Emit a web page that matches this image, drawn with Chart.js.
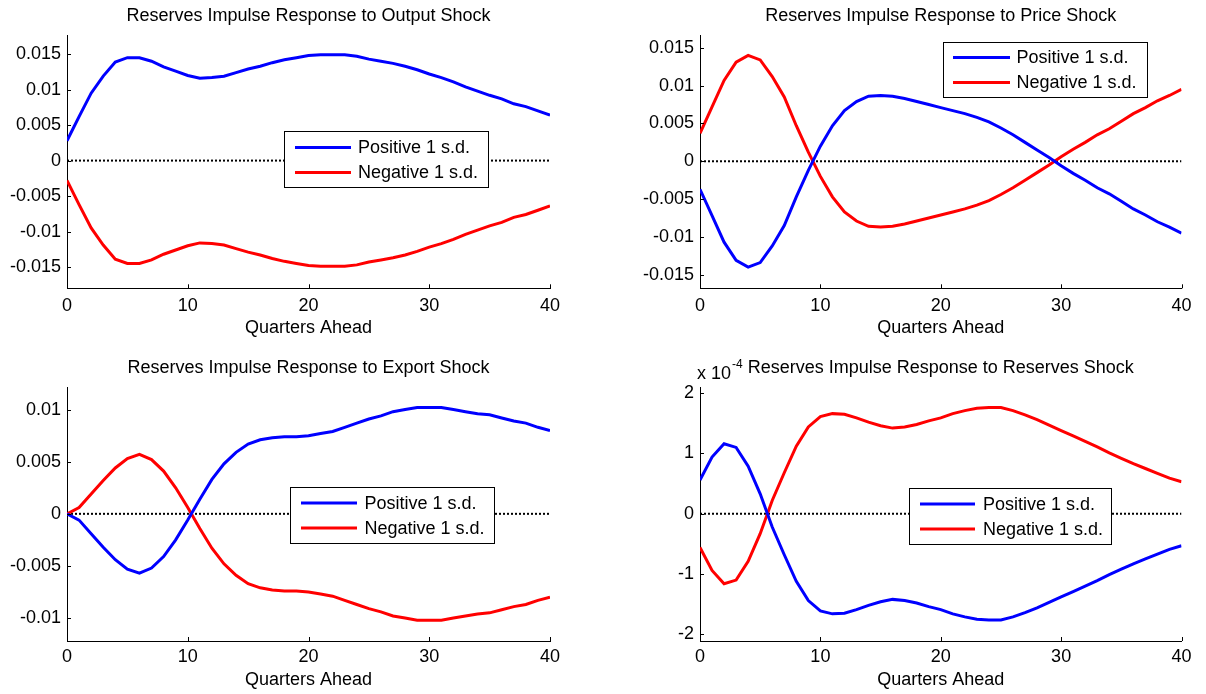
<!DOCTYPE html>
<html>
<head>
<meta charset="utf-8">
<script src="https://cdn.jsdelivr.net/npm/chart.js@4.4.1/dist/chart.umd.min.js"></script>
<style>
  body { margin: 0; background: #fff; }
  #wrap { position: relative; width: 1206px; height: 694px; }
  canvas { position: absolute; }
</style>
</head>
<body>
<div id="wrap">
  <canvas id="c1" width="603" height="347" style="left:0;top:0"></canvas>
  <canvas id="c2" width="603" height="347" style="left:603px;top:0"></canvas>
  <canvas id="c3" width="603" height="347" style="left:0;top:347px"></canvas>
  <canvas id="c4" width="603" height="347" style="left:603px;top:347px"></canvas>
</div>
<script>
// quarters ahead
const quarters = [0,1,2,3,4,5,6,7,8,9,10,11,12,13,14,15,16,17,18,19,20,21,22,23,24,25,26,27,28,29,30,31,32,33,34,35,36,37,38,39,40];
const xTicks = [0, 10, 20, 30, 40];
const zeroLine = [0, 0];
const zeroX = [0, 40];

// output shock
const outputPos = [0.0028,0.0062,0.0095,0.0119,0.0139,0.0145,0.0145,0.0140,0.0132,0.0126,0.0120,0.0116,0.0117,0.0119,0.0124,0.0129,0.0133,0.0138,0.0142,0.0145,0.0148,0.0149,0.0149,0.0149,0.0147,0.0143,0.0140,0.0137,0.0133,0.0128,0.0122,0.0117,0.0111,0.0104,0.0098,0.0092,0.0087,0.0080,0.0076,0.0070,0.0064];
const outputNeg = [-0.0028,-0.0062,-0.0095,-0.0119,-0.0139,-0.0145,-0.0145,-0.0140,-0.0132,-0.0126,-0.0120,-0.0116,-0.0117,-0.0119,-0.0124,-0.0129,-0.0133,-0.0138,-0.0142,-0.0145,-0.0148,-0.0149,-0.0149,-0.0149,-0.0147,-0.0143,-0.0140,-0.0137,-0.0133,-0.0128,-0.0122,-0.0117,-0.0111,-0.0104,-0.0098,-0.0092,-0.0087,-0.0080,-0.0076,-0.0070,-0.0064];
const outputTicks = [-0.015, -0.01, -0.005, 0, 0.005, 0.01, 0.015];

// price shock
const pricePos = [-0.0037,-0.0072,-0.0107,-0.0131,-0.0140,-0.0134,-0.0112,-0.0085,-0.0047,-0.0012,0.0020,0.0047,0.0067,0.0079,0.0086,0.0087,0.0086,0.0083,0.0079,0.0075,0.0071,0.0067,0.0063,0.0058,0.0052,0.0044,0.0035,0.0025,0.0015,0.0005,-0.0006,-0.0016,-0.0025,-0.0035,-0.0043,-0.0053,-0.0063,-0.0071,-0.0080,-0.0087,-0.0095];
const priceNeg = [0.0037,0.0072,0.0107,0.0131,0.0140,0.0134,0.0112,0.0085,0.0047,0.0012,-0.0020,-0.0047,-0.0067,-0.0079,-0.0086,-0.0087,-0.0086,-0.0083,-0.0079,-0.0075,-0.0071,-0.0067,-0.0063,-0.0058,-0.0052,-0.0044,-0.0035,-0.0025,-0.0015,-0.0005,0.0006,0.0016,0.0025,0.0035,0.0043,0.0053,0.0063,0.0071,0.0080,0.0087,0.0095];
const priceTicks = [-0.015, -0.01, -0.005, 0, 0.005, 0.01, 0.015];

// export shock
const exportPos = [0,-0.0006,-0.0019,-0.0032,-0.0044,-0.0053,-0.0057,-0.0052,-0.0041,-0.0025,-0.0006,0.0014,0.0033,0.0048,0.0059,0.0067,0.0071,0.0073,0.0074,0.0074,0.0075,0.0077,0.0079,0.0083,0.0087,0.0091,0.0094,0.0098,0.0100,0.0102,0.0102,0.0102,0.0100,0.0098,0.0096,0.0095,0.0092,0.0089,0.0087,0.0083,0.0080];
const exportNeg = [0,0.0006,0.0019,0.0032,0.0044,0.0053,0.0057,0.0052,0.0041,0.0025,0.0006,-0.0014,-0.0033,-0.0048,-0.0059,-0.0067,-0.0071,-0.0073,-0.0074,-0.0074,-0.0075,-0.0077,-0.0079,-0.0083,-0.0087,-0.0091,-0.0094,-0.0098,-0.0100,-0.0102,-0.0102,-0.0102,-0.0100,-0.0098,-0.0096,-0.0095,-0.0092,-0.0089,-0.0087,-0.0083,-0.0080];
const exportTicks = [-0.01, -0.005, 0, 0.005, 0.01];

// reserves shock (x 10^-4)
const reservesPos = [0.56,0.94,1.16,1.10,0.79,0.33,-0.22,-0.68,-1.12,-1.44,-1.61,-1.66,-1.65,-1.59,-1.52,-1.46,-1.42,-1.44,-1.48,-1.54,-1.59,-1.66,-1.71,-1.75,-1.76,-1.76,-1.71,-1.64,-1.56,-1.47,-1.38,-1.29,-1.20,-1.11,-1.01,-0.92,-0.83,-0.75,-0.67,-0.59,-0.53];
const reservesNeg = [-0.56,-0.94,-1.16,-1.10,-0.79,-0.33,0.22,0.68,1.12,1.44,1.61,1.66,1.65,1.59,1.52,1.46,1.42,1.44,1.48,1.54,1.59,1.66,1.71,1.75,1.76,1.76,1.71,1.64,1.56,1.47,1.38,1.29,1.20,1.11,1.01,0.92,0.83,0.75,0.67,0.59,0.53];
const reservesTicks = [-2, -1, 0, 1, 2];

const FONT = '"Liberation Sans", Arial, Helvetica, sans-serif';

// matlab style extras: inward ticks, boxed legend, title
const matlabLook = {
  id: 'matlabLook',
  afterDatasetsDraw(chart, args, opts) {
    const ctx = chart.ctx, a = chart.chartArea;
    const xs = chart.scales.x, ys = chart.scales.y;
    ctx.save();
    ctx.strokeStyle = '#000';
    ctx.lineWidth = 1;
    ctx.beginPath();
    xs.ticks.forEach(t => {
      const px = Math.round(xs.getPixelForValue(t.value)) + 0.5;
      ctx.moveTo(px, a.bottom); ctx.lineTo(px, a.bottom - 4);
    });
    ys.ticks.forEach(t => {
      const py = Math.round(ys.getPixelForValue(t.value)) + 0.5;
      ctx.moveTo(a.left, py); ctx.lineTo(a.left + 4, py);
    });
    ctx.stroke();

    // legend
    const L = opts.legend;
    ctx.fillStyle = '#fff';
    ctx.fillRect(L.x, L.y, L.w, L.h);
    ctx.strokeRect(Math.round(L.x) + 0.5, Math.round(L.y) + 0.5, Math.round(L.w), Math.round(L.h));
    ctx.font = '18px ' + FONT;
    ctx.textAlign = 'left';
    ctx.textBaseline = 'middle';
    chart.data.datasets.slice(0, 2).forEach((ds, i) => {
      const y = L.rows[i];
      ctx.strokeStyle = ds.borderColor;
      ctx.lineWidth = 3;
      ctx.beginPath();
      ctx.moveTo(L.x1, y); ctx.lineTo(L.x2, y);
      ctx.stroke();
      ctx.fillStyle = '#000';
      ctx.fillText(ds.label, L.tx, y + 1);
    });

    // title
    ctx.fillStyle = '#000';
    ctx.textAlign = 'center';
    ctx.fillText(opts.title, (a.left + a.right) / 2, opts.titleY);
    if (opts.exponent) {
      ctx.textAlign = 'left';
      ctx.fillText('x 10', a.left - 3, opts.titleY + 6);
      ctx.font = '12px ' + FONT;
      ctx.fillText('-4', a.left + 32, opts.titleY - 3);
    }
    ctx.restore();
  }
};

function makePanel(id, title, pos, neg, yTicks, yMin, yMax, g) {
  const lineData = arr => quarters.map((q, i) => ({ x: q, y: arr[i] }));
  return new Chart(document.getElementById(id), {
    type: 'line',
    data: {
      datasets: [
        { label: 'Positive 1 s.d.', data: lineData(pos), borderColor: '#0000ff', borderWidth: 3, pointRadius: 0, tension: 0 },
        { label: 'Negative 1 s.d.', data: lineData(neg), borderColor: '#ff0000', borderWidth: 3, pointRadius: 0, tension: 0 },
        { label: 'zero', data: zeroX.map((x, i) => ({ x: x, y: zeroLine[i] })), borderColor: '#000', borderWidth: 2, borderDash: [2, 2], pointRadius: 0 }
      ]
    },
    options: {
      responsive: false,
      animation: false,
      devicePixelRatio: 1,
      layout: { padding: { left: 0, top: g.top, right: g.right, bottom: 0 } },
      plugins: {
        legend: { display: false },
        tooltip: { enabled: false },
        matlabLook: { title: title, titleY: g.titleY, legend: g.legend, exponent: g.exponent }
      },
      scales: {
        x: {
          type: 'linear', min: 0, max: 40,
          afterBuildTicks: s => { s.ticks = xTicks.map(v => ({ value: v })); },
          afterFit: s => { s.height = g.xh; },
          grid: { display: false, drawTicks: false },
          border: { display: true, color: '#000', width: 1 },
          ticks: { padding: g.xpad, color: '#000', maxRotation: 0, autoSkip: false, font: { family: FONT, size: 18 } },
          title: { display: true, text: 'Quarters Ahead', color: '#000', font: { family: FONT, size: 18 }, padding: { top: 0, bottom: g.tpad } }
        },
        y: {
          min: yMin, max: yMax,
          afterBuildTicks: s => { s.ticks = yTicks.map(v => ({ value: v })); },
          afterFit: s => { s.width = g.left; },
          grid: { display: false, drawTicks: false },
          border: { display: true, color: '#000', width: 1 },
          ticks: { padding: 6, color: '#000', font: { family: FONT, size: 18 }, callback: v => String(v) }
        }
      }
    },
    plugins: [matlabLook]
  });
}

makePanel('c1', 'Reserves Impulse Response to Output Shock', outputPos, outputNeg, outputTicks, -0.018, 0.0177, {
  left: 67, right: 53, top: 35, xh: 58.7, xpad: 7, tpad: 8, titleY: 16,
  legend: { x: 284, y: 131, w: 204, h: 56, x1: 295, x2: 351, tx: 358, rows: [147.5, 172.5] }
});
makePanel('c2', 'Reserves Impulse Response to Price Shock', pricePos, priceNeg, priceTicks, -0.0168, 0.0167, {
  left: 97, right: 24.5, top: 35, xh: 58.7, xpad: 7, tpad: 8, titleY: 16,
  legend: { x: 340, y: 42, w: 204, h: 55, x1: 350, x2: 407, tx: 413.5, rows: [57.5, 82.5] }
});
makePanel('c3', 'Reserves Impulse Response to Export Shock', exportPos, exportNeg, exportTicks, -0.0122, 0.0121, {
  left: 67, right: 53, top: 40.7, xh: 53, xpad: 5.5, tpad: 3, titleY: 21,
  legend: { x: 290, y: 139.5, w: 204, h: 56, x1: 301, x2: 357, tx: 364.5, rows: [156, 181] }
});
makePanel('c4', 'Reserves Impulse Response to Reserves Shock', reservesPos, reservesNeg, reservesTicks, -2.11, 2.09, {
  left: 97, right: 24.5, top: 40.7, xh: 53, xpad: 5.5, tpad: 3, titleY: 21, exponent: true,
  legend: { x: 306, y: 141, w: 202, h: 56, x1: 317, x2: 372, tx: 380, rows: [157, 182] }
});
</script>
</body>
</html>
